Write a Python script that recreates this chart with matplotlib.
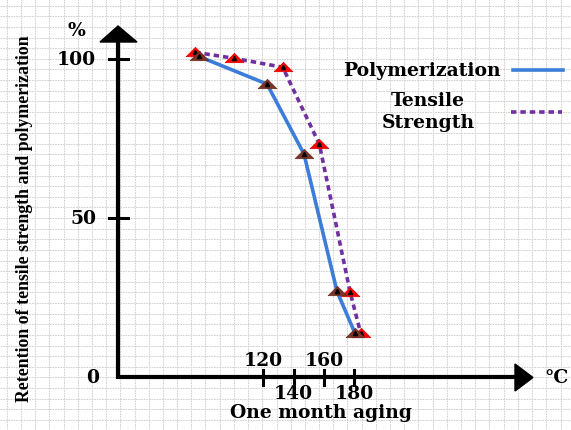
import numpy as np
import matplotlib
matplotlib.use("Agg")
import matplotlib.pyplot as plt
from matplotlib.path import Path
from matplotlib.patches import Polygon
import matplotlib.transforms as mtransforms

# ---- data ----
poly_temp = [77.7, 122.5, 146.8, 168.5, 180.3]
poly_val = [100.9, 92.2, 70.2, 27.0, 13.8]
tens_temp = [75.2, 101.0, 132.8, 156.9, 177.1, 184.1]
tens_val = [102.2, 100.3, 97.5, 73.3, 26.8, 13.8]
x_ticks = [120, 140, 160, 180]
x_tick_labels = ["120", "140", "160", "180"]
y_ticks = [50, 100]
y_tick_labels = ["50", "100"]

W, H = 571, 431
fig = plt.figure(figsize=(W / 100, H / 100), dpi=100)
fig.patch.set_facecolor("white")

# pixel-coordinate background axes (grid paper + axis arrows)
bg = fig.add_axes([0, 0, 1, 1])
bg.set_xlim(0, W)
bg.set_ylim(H, 0)
bg.axis("off")

gx = np.arange(6.7, W, 14.2)
gy = np.arange(6.7, H, 10.62)
bg.vlines(gx, 0, H, colors="#d2d2d2", linestyles=(0, (1.6, 0.9)), linewidth=0.75)
bg.hlines(gy, 0, W, colors="#d2d2d2", linestyles=(0, (1.6, 0.9)), linewidth=0.75)

# data axes mapped on top of the figure
ax = fig.add_axes([0, 0, 1, 1])
ax.patch.set_alpha(0)
slope = 1.52
ax.set_xlim(150 - 308.85 / slope, 150 + (W - 308.85) / slope)
ax.set_ylim(-(H - 378) / 3.177, 378 / 3.177)
ax.axis("off")

# axes lines with arrowheads (pixel coords)
bg.plot([118, 118], [379.5, 40], color="black", lw=3, solid_capstyle="butt", zorder=3)
bg.plot([116.5, 516], [378, 378], color="black", lw=3, solid_capstyle="butt", zorder=3)
bg.add_patch(Polygon([[118, 27], [100, 43], [137, 43]], closed=True, color="black", zorder=3))
bg.add_patch(Polygon([[533, 378.5], [515, 365], [515, 392]], closed=True, color="black", zorder=3))

serif_h = dict(family="DejaVu Serif", weight="bold", size=13.5, color="black")

# y ticks
ty = mtransforms.blended_transform_factory(bg.transData, ax.transData)
for v, lab in zip(y_ticks, y_tick_labels):
    bg.plot([109, 128], [v, v], color="black", lw=2.2, transform=ty, zorder=3)
    bg.text(96, v, lab, ha="right", va="center", transform=ty, **serif_h)
bg.text(99, 0, "0", ha="right", va="center", transform=ty, **serif_h)
bg.text(76, 31, "%", ha="center", va="center", **serif_h)

# x ticks
tx = mtransforms.blended_transform_factory(ax.transData, bg.transData)
for i, (v, lab) in enumerate(zip(x_ticks, x_tick_labels)):
    bg.plot([v, v], [371, 386], color="black", lw=2.2, transform=tx, zorder=3)
    yy = 361.5 if i % 2 == 0 else 394.5
    bg.text(v, yy, lab, ha="center", va="center", transform=tx, **serif_h)

bg.text(556, 378, "°C", ha="center", va="center", **serif_h)
bg.text(321, 413, "One month aging", ha="center", va="center", **serif_h)
bg.text(25, 219, "Retention of tensile strength and polymerization", rotation=90,
        ha="center", va="center", family="Liberation Serif", weight="bold", size=12.8)

# markers
tri = Path([(-1, -0.45), (0, 0.55), (1, -0.45), (-1, -0.45)],
           [Path.MOVETO, Path.LINETO, Path.LINETO, Path.CLOSEPOLY])

ax.plot(tens_temp, tens_val, color="#7030a0", lw=2.6, linestyle=(0, (1.5, 1.1)), zorder=4)
ax.plot(tens_temp, tens_val, linestyle="none", marker=tri, markersize=13.5,
        markerfacecolor="#ff0000", markeredgecolor="#e00000", markeredgewidth=0.5, zorder=5)
ax.plot(tens_temp, tens_val, linestyle="none", marker="^", markersize=3,
        color="black", zorder=5)

ax.plot(poly_temp, poly_val, color="#3b7dd8", lw=2.6, zorder=6)
ax.plot(poly_temp, poly_val, linestyle="none", marker=tri, markersize=13.5,
        markerfacecolor="#7a3428", markeredgecolor="#6a2a20", markeredgewidth=0.5, zorder=7)
ax.plot(poly_temp, poly_val, linestyle="none", marker="^", markersize=3,
        color="black", zorder=7)

# legend (manual)
bg.text(422, 71, "Polymerization", ha="center", va="center", **serif_h)
bg.plot([513, 563], [71, 71], color="#3b7dd8", lw=2.6)
bg.text(428, 112, "Tensile\nStrength", ha="center", va="center", linespacing=1.3, **serif_h)
bg.plot([511, 562], [113, 113], color="#7030a0", lw=2.6, linestyle=(0, (1.5, 1.1)))

fig.savefig("out.png", dpi=100)
